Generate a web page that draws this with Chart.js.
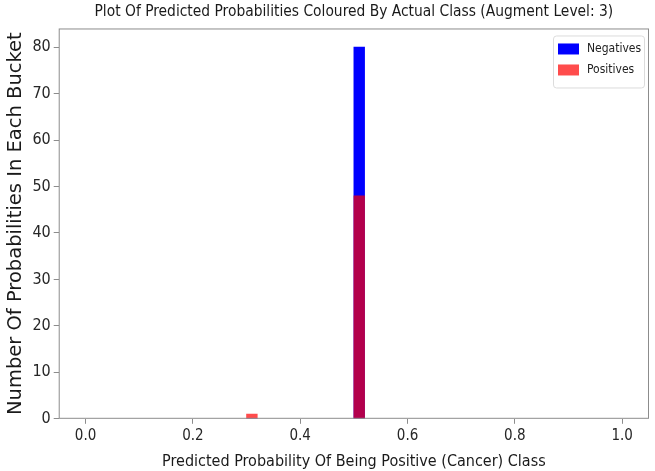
<!DOCTYPE html>
<html>
<head>
<meta charset="utf-8">
<script src="https://cdn.jsdelivr.net/npm/chart.js@4.4.0/dist/chart.umd.min.js"></script>
<style>
    html, body { margin: 0; padding: 0; background: #ffffff; }
    #wrap { width: 655px; height: 471px; }
</style>
</head>
<body>
<div id="wrap"><canvas id="chart-area" width="655" height="471"></canvas></div>
<script>
// Histogram buckets that hold anything (every other 0.02 bucket is empty)
var binWidth = 0.02;
var binStarts = [0.30, 0.50];
var negatives = [0, 80];
var positives = [1, 48];

var xTicks = [0.0, 0.2, 0.4, 0.6, 0.8, 1.0];
var yTicks = [0, 10, 20, 30, 40, 50, 60, 70, 80];

var condensed = "'DejaVu Sans Condensed', 'Liberation Sans Narrow', 'DejaVu Sans', sans-serif";

function toPoints(counts) {
    var points = [];
    for (var i = 0; i < binStarts.length; i++) {
        points.push({ x: binStarts[i] + binWidth / 2, y: counts[i] });
    }
    return points;
}

// bar as wide as one bucket on the x scale
function bucketThickness(ctx) {
    var x = ctx.chart.scales.x;
    return Math.abs(x.getPixelForValue(binWidth) - x.getPixelForValue(0));
}

var framePlugin = {
    id: 'frame',
    afterDatasetsDraw: function (chart) {
        var a = chart.chartArea;
        var c = chart.ctx;
        c.save();
        c.strokeStyle = '#8c8c8c';
        c.lineWidth = 1;
        c.strokeRect(a.left + 0.5, a.top + 0.5, a.right - a.left - 1, a.bottom - a.top - 1);
        c.restore();
    }
};

// matplotlib style legend in the upper right corner of the axes
var boxLegend = {
    id: 'boxLegend',
    afterDraw: function (chart) {
        var a = chart.chartArea;
        var c = chart.ctx;
        var sets = chart.data.datasets;
        var w = 91, rowH = 21, h = 10 + rowH * sets.length;
        var left = a.right - w - 5, top = a.top + 7;
        c.save();
        c.fillStyle = 'rgba(255,255,255,0.8)';
        c.strokeStyle = '#dcdcdc';
        c.lineWidth = 1;
        c.beginPath();
        c.roundRect(left + 0.5, top + 0.5, w, h, 3);
        c.fill();
        c.stroke();
        c.font = "12px " + condensed;
        c.textBaseline = 'middle';
        for (var i = 0; i < sets.length; i++) {
            var y = top + 13 + i * rowH;
            c.fillStyle = sets[i].legendColor;
            c.fillRect(left + 5, y - 5, 21, 11);
            c.fillStyle = '#222222';
            c.fillText(sets[i].label, left + 34, y);
        }
        c.restore();
    }
};

var config = {
    type: 'bar',
    data: {
        datasets: [{
            label: 'Negatives',
            data: toPoints(negatives),
            backgroundColor: 'rgb(0, 0, 255)',
            legendColor: 'rgb(0, 0, 255)',
            order: 2
        }, {
            label: 'Positives',
            data: toPoints(positives),
            backgroundColor: 'rgba(255, 0, 0, 0.7)',
            legendColor: 'rgba(255, 0, 0, 0.7)',
            order: 1
        }]
    },
    options: {
        responsive: false,
        animation: false,
        grouped: false,
        barThickness: bucketThickness,
        borderWidth: 0,
        layout: { padding: { left: 4, right: 6, top: 0, bottom: 0 } },
        plugins: {
            legend: { display: false },
            tooltip: { enabled: false },
            title: {
                display: true,
                fullSize: false,
                text: 'Plot Of Predicted Probabilities Coloured By Actual Class (Augment Level: 3)',
                color: '#1a1a1a',
                font: { family: condensed, size: 15.4, weight: 'normal' },
                padding: { top: 3, bottom: 7 }
            }
        },
        scales: {
            x: {
                type: 'linear',
                offset: false,
                min: -0.05,
                max: 1.05,
                afterBuildTicks: function (scale) {
                    scale.ticks = xTicks.map(function (v) { return { value: v }; });
                },
                ticks: {
                    color: '#262626',
                    font: { family: condensed, size: 15 },
                    padding: 3,
                    maxRotation: 0,
                    callback: function (v) { return Number(v).toFixed(1); }
                },
                grid: { display: true, offset: false, drawOnChartArea: false, tickLength: 5, tickColor: '#8c8c8c' },
                border: { display: false },
                title: {
                    display: true,
                    text: 'Predicted Probability Of Being Positive (Cancer) Class',
                    color: '#1a1a1a',
                    font: { family: condensed, size: 16 },
                    padding: { top: 4, bottom: 0 }
                }
            },
            y: {
                min: 0,
                max: 84,
                afterBuildTicks: function (scale) {
                    scale.ticks = yTicks.map(function (v) { return { value: v }; });
                },
                ticks: {
                    color: '#262626',
                    font: { family: condensed, size: 16 },
                    padding: 3
                },
                grid: { display: true, drawOnChartArea: false, tickLength: 5, tickColor: '#8c8c8c' },
                border: { display: false },
                title: {
                    display: true,
                    text: 'Number Of Probabilities In Each Bucket',
                    color: '#1a1a1a',
                    font: { family: "'DejaVu Sans', sans-serif", size: 19.5 },
                    padding: { top: 0, bottom: 2 }
                }
            }
        }
    },
    plugins: [framePlugin, boxLegend]
};

var ctx = document.getElementById('chart-area').getContext('2d');
window.myHist = new Chart(ctx, config);
</script>
</body>
</html>
